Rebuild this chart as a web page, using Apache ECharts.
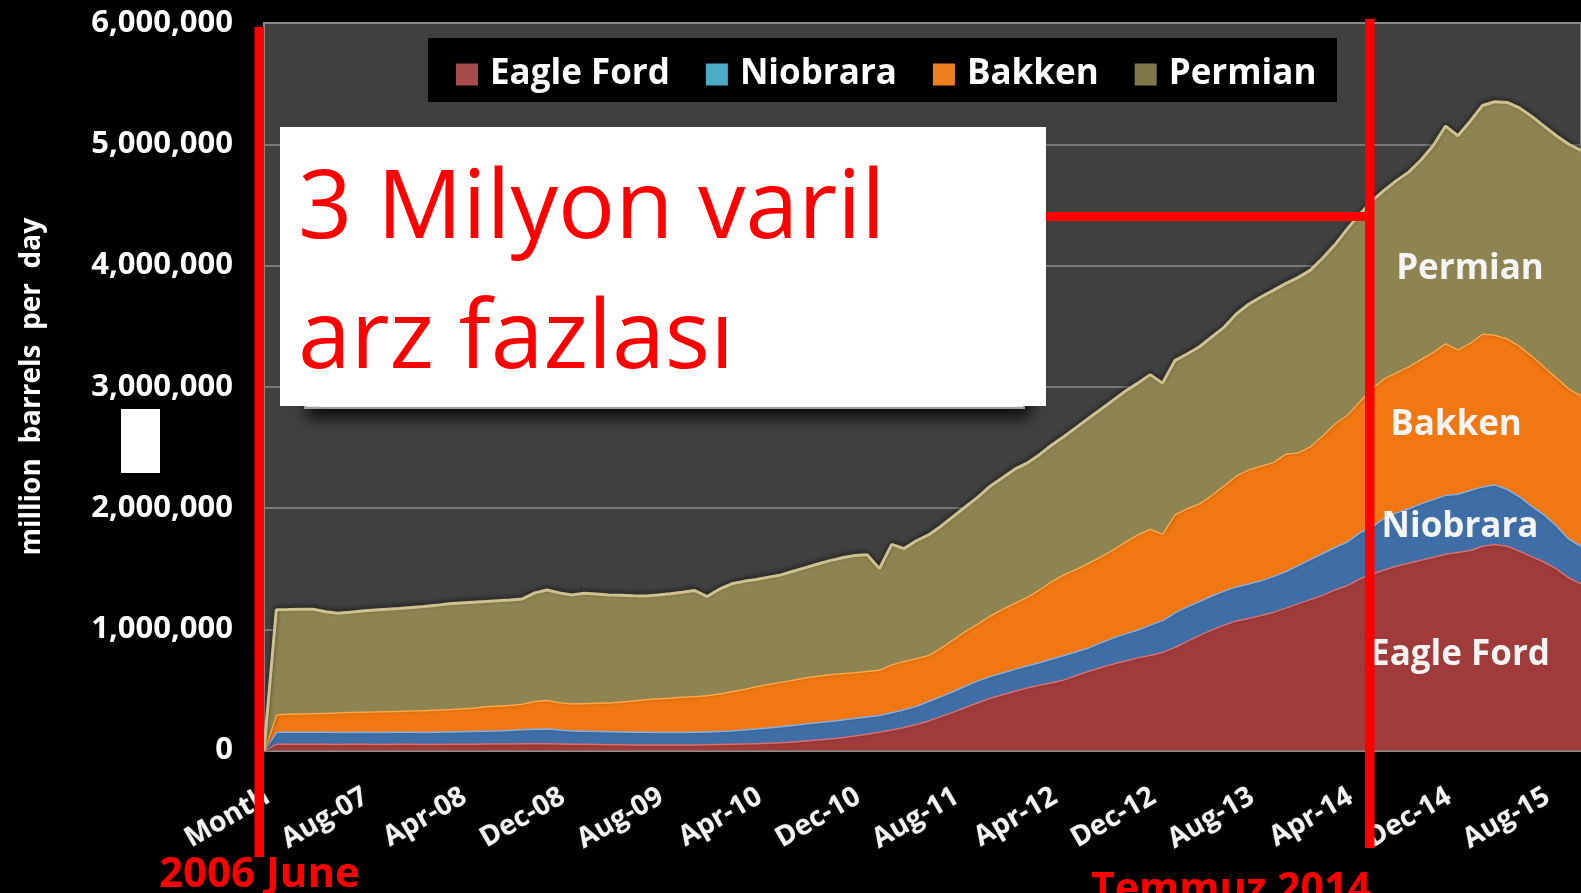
<!DOCTYPE html>
<html>
<head>
<meta charset="utf-8">
<script src="https://cdn.jsdelivr.net/npm/echarts@6/dist/echarts.min.js"></script>
<style>
  html, body { margin: 0; padding: 0; background: #000; }
  #chart { width: 1581px; height: 893px; }
</style>
</head>
<body>
<div id="chart"></div>
<script>
// ---- data (thousand barrels per day) ----
const categories = ['Month',
  'Jan-07','Feb-07','Mar-07','Apr-07','May-07','Jun-07','Jul-07','Aug-07','Sep-07','Oct-07','Nov-07','Dec-07',
  'Jan-08','Feb-08','Mar-08','Apr-08','May-08','Jun-08','Jul-08','Aug-08','Sep-08','Oct-08','Nov-08','Dec-08',
  'Jan-09','Feb-09','Mar-09','Apr-09','May-09','Jun-09','Jul-09','Aug-09','Sep-09','Oct-09','Nov-09','Dec-09',
  'Jan-10','Feb-10','Mar-10','Apr-10','May-10','Jun-10','Jul-10','Aug-10','Sep-10','Oct-10','Nov-10','Dec-10',
  'Jan-11','Feb-11','Mar-11','Apr-11','May-11','Jun-11','Jul-11','Aug-11','Sep-11','Oct-11','Nov-11','Dec-11',
  'Jan-12','Feb-12','Mar-12','Apr-12','May-12','Jun-12','Jul-12','Aug-12','Sep-12','Oct-12','Nov-12','Dec-12',
  'Jan-13','Feb-13','Mar-13','Apr-13','May-13','Jun-13','Jul-13','Aug-13','Sep-13','Oct-13','Nov-13','Dec-13',
  'Jan-14','Feb-14','Mar-14','Apr-14','May-14','Jun-14','Jul-14','Aug-14','Sep-14','Oct-14','Nov-14','Dec-14',
  'Jan-15','Feb-15','Mar-15','Apr-15','May-15','Jun-15','Jul-15','Aug-15','Sep-15','Oct-15','Nov-15'];

const seriesNames = ['Eagle Ford', 'Niobrara', 'Bakken', 'Permian'];

const eagleFord = [0,58,58,57,58,57,56,57,57,56,
  56,57,57,56,56,57,58,58,59,59,
  60,61,62,62,60,58,57,55,54,53,
  52,52,51,51,51,52,53,55,57,59,
  62,66,71,77,84,92,101,112,125,140,
  156,175,196,220,250,285,322,360,400,437,
  465,495,522,545,565,588,625,660,690,720,
  745,770,790,815,855,905,955,1000,1040,1075,
  1095,1120,1145,1180,1215,1250,1285,1330,1365,1420,
  1460,1495,1525,1550,1575,1600,1625,1640,1655,1690,
  1705,1690,1650,1605,1560,1505,1430,1380];

const niobrara = [0,97,98,99,99,99,99,98,99,99,
  99,99,99,99,100,101,102,104,106,109,
  112,116,120,121,115,110,108,108,106,105,
  105,104,104,104,104,104,105,107,111,116,
  121,126,131,136,140,143,145,146,145,142,
  139,143,146,150,160,165,170,178,180,178,
  180,180,181,185,195,202,195,192,205,215,
  223,230,250,262,285,285,280,280,280,280,
  285,285,295,300,315,330,345,350,360,380,
  390,425,440,450,465,475,485,480,495,490,
  490,470,450,415,390,355,320,310];

const bakken = [0,145,149,152,153,156,160,165,166,168,
  170,172,175,179,182,185,188,193,202,204,
  206,211,228,235,225,222,227,232,238,247,
  258,269,276,283,290,294,300,310,322,335,
  349,358,366,373,380,383,384,382,378,376,
  373,394,398,392,380,400,428,452,470,500,
  525,545,565,600,640,665,680,698,710,725,
  757,785,790,713,810,810,805,830,870,915,
  940,945,940,970,930,930,970,1020,1045,1080,
  1140,1150,1155,1170,1190,1215,1250,1190,1215,1260,
  1235,1240,1240,1240,1220,1220,1240,1240];

const permian = [0,860,857,857,855,833,817,820,828,835,
  840,844,849,853,859,867,868,867,861,863,
  864,862,890,906,900,893,905,895,885,875,
  862,850,851,855,860,869,812,858,885,885,
  878,880,880,892,904,920,936,950,960,957,
  832,988,925,968,988,1000,1010,1020,1040,1065,
  1080,1100,1102,1110,1120,1135,1165,1190,1210,1230,
  1240,1245,1270,1240,1265,1270,1290,1300,1300,1330,
  1360,1390,1415,1400,1440,1450,1460,1470,1530,1540,
  1540,1550,1580,1600,1640,1700,1790,1760,1825,1880,
  1920,1945,1960,1970,1980,1990,2010,2020];

const seriesValues = [eagleFord, niobrara, bakken, permian];
const areaColors = ['#9F3B3B', '#3F6EA6', '#F07712', '#8D8452'];
const edgeColors = ['#DB6F6F', '#7FB0EA', '#FFA746', '#CFC28E'];
const legendIconColors = ['#A84B4B', '#4BACC6', '#EE7F1E', '#7E7848'];

const annotationTitle = ['3 Milyon varil', 'arz fazlası'];

const chart = echarts.init(document.getElementById('chart'), null, { renderer: 'canvas' });

const FONT = '"Open Sans", "Noto Sans", sans-serif';

const option = {
  animation: false,
  backgroundColor: '#000',
  grid: {
    left: 264, right: -9, top: 23, bottom: 142.5,
    show: true, backgroundColor: '#404040',
    borderColor: '#858585', borderWidth: 2, containLabel: false
  },
  legend: {
    left: 456, top: 57, padding: 0,
    itemWidth: 22, itemHeight: 22, itemGap: 36,
    icon: 'rect',
    selectedMode: false,
    data: seriesNames.map((n, i) => ({ name: n, itemStyle: { color: legendIconColors[i] } })),
    textStyle: { color: '#fff', fontFamily: FONT, fontWeight: 'bold', fontSize: 35, padding: [0, 0, 0, 7] },
    z: 20
  },
  xAxis: {
    type: 'category',
    boundaryGap: false,
    data: categories,
    axisLine: { lineStyle: { color: '#8f8f8f', width: 2 } },
    axisTick: { show: false },
    splitLine: { show: false },
    axisLabel: {
      interval: 7, rotate: 30, margin: 46,
      padding: [0, -4, 0, 0],
      color: '#f2f2f2', fontFamily: FONT, fontWeight: 'bold', fontSize: 28,
      hideOverlap: false,
      textShadowColor: 'rgba(255,255,255,0.25)', textShadowBlur: 2
    }
  },
  yAxis: {
    type: 'value',
    min: 0, max: 6000000, interval: 1000000,
    name: 'million  barrels  per  day',
    nameLocation: 'middle', nameRotate: 90, nameGap: 218,
    nameTextStyle: { color: '#fff', fontFamily: FONT, fontWeight: 'bold', fontSize: 28 },
    axisLine: { show: true, lineStyle: { color: '#858585', width: 2 } },
    axisTick: { show: false },
    splitLine: { lineStyle: { color: '#8c8c8c', width: 1.5 } },
    axisLabel: {
      margin: 31, color: '#fff', fontFamily: FONT, fontWeight: 'bold', fontSize: 31,
      formatter: v => v.toLocaleString('en-US')
    }
  },
  series: seriesNames.map((name, i) => ({
    name: name,
    type: 'line',
    stack: 'total',
    symbol: 'none',
    smooth: false,
    data: seriesValues[i].map(v => v * 1000),
    itemStyle: { color: areaColors[i] },
    lineStyle: { color: edgeColors[i], width: 3, shadowColor: 'rgba(0,0,0,0.55)', shadowBlur: 4, shadowOffsetY: -2 },
    areaStyle: { color: areaColors[i], opacity: 1 },
    z: 2 + i
  })),
  graphic: [
    // legend frame
    { type: 'rect', z: 10, shape: { x: 428, y: 38, width: 909, height: 64 }, style: { fill: '#000' } },
    // in-plot series labels
    ...[['Permian', 1470, 269], ['Bakken', 1456, 425], ['Niobrara', 1460, 527], ['Eagle Ford', 1460, 655]].map(t => ({
      type: 'text', z: 30, x: t[1], y: t[2],
      style: {
        text: t[0], align: 'center', verticalAlign: 'middle',
        fontFamily: FONT, fontWeight: 'bold', fontSize: 35, fill: '#f4f4f4',
        shadowColor: 'rgba(0,0,0,0.75)', shadowBlur: 6, shadowOffsetX: 3, shadowOffsetY: 5
      }
    })),
    // shadow panel behind annotation box
    { type: 'rect', z: 40, shape: { x: 305, y: 140, width: 719, height: 268 },
      style: { fill: '#ffffff', stroke: '#a0a0a0', lineWidth: 2, shadowBlur: 14, shadowOffsetX: 4, shadowOffsetY: 8, shadowColor: 'rgba(0,0,0,0.85)' } },
    // annotation box
    { type: 'rect', z: 41, shape: { x: 280, y: 127, width: 766, height: 279 }, style: { fill: '#ffffff' } },
    { type: 'text', z: 42, x: 298, y: 163, style: { text: annotationTitle[0], fontFamily: FONT, fontSize: 95, fill: '#ff0000', verticalAlign: 'top' } },
    { type: 'text', z: 42, x: 298, y: 293, style: { text: annotationTitle[1], fontFamily: FONT, fontSize: 95, fill: '#ff0000', verticalAlign: 'top' } },
    // red markers
    { type: 'rect', z: 50, shape: { x: 254.5, y: 27, width: 9.5, height: 830 }, style: { fill: '#ff0000' } },
    { type: 'rect', z: 50, shape: { x: 1365, y: 19, width: 9.5, height: 829 }, style: { fill: '#ff0000' } },
    { type: 'rect', z: 50, shape: { x: 1046, y: 212, width: 324, height: 9 }, style: { fill: '#ff0000' } },
    { type: 'text', z: 50, x: 159, y: 854, style: { text: '2006 June', fontFamily: FONT, fontWeight: 'bold', fontSize: 42, fill: '#ff0000', verticalAlign: 'top' } },
    { type: 'text', z: 50, x: 1091, y: 870, style: { text: 'Temmuz 2014', fontFamily: FONT, fontWeight: 'bold', fontSize: 41, fill: '#ff0000', verticalAlign: 'top' } },
    // small white block on the left
    { type: 'rect', z: 50, shape: { x: 121, y: 409, width: 39, height: 64 }, style: { fill: '#ffffff' } }
  ]
};

chart.setOption(option);
</script>
</body>
</html>
